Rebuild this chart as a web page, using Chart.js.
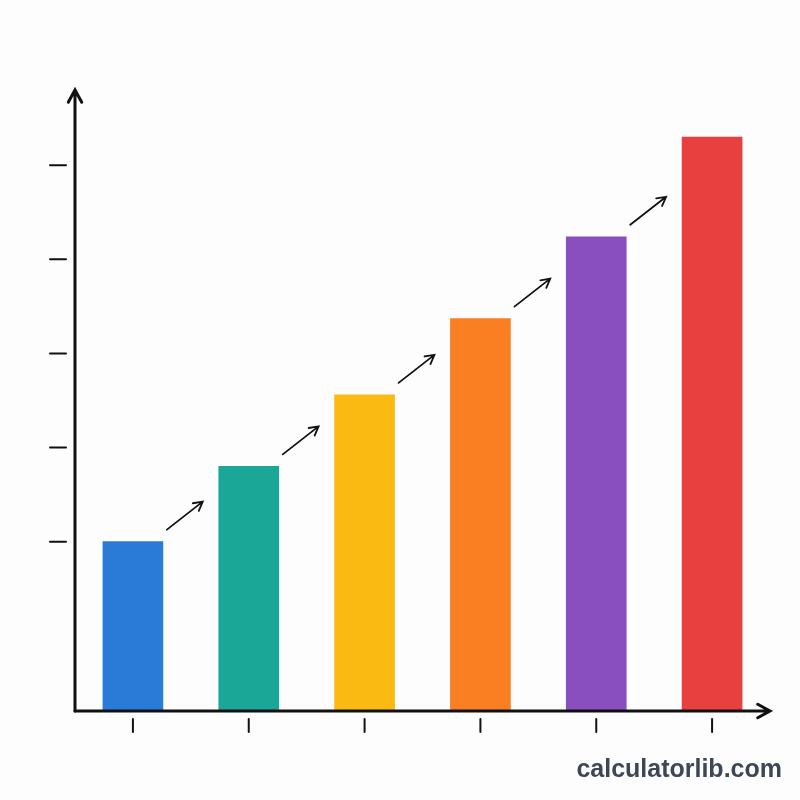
<!DOCTYPE html>
<html lang="en">
<head>
<meta charset="UTF-8" />
<title>Growth bars</title>
<script src="https://cdn.jsdelivr.net/npm/chart.js"></script>
<style>
  html, body { margin: 0; padding: 0; background: #fdfdfd; }
  #wrap { position: relative; width: 800px; height: 800px; }
  #brand { position: absolute; right: 18px; top: 754px; font: bold 25px "Liberation Sans", Arial, sans-serif; color: #3d4654; }
</style>
</head>
<body>
<div id="wrap">
  <canvas id="c" width="800" height="800"></canvas>
  <div id="brand">calculatorlib.com</div>
</div>
<script>
const categories = ["1", "2", "3", "4", "5", "6"];
const values = [18, 26, 33.6, 41.7, 50.4, 61];
const tickValues = [18, 28, 38, 48, 58];
const colors = ["#2a7bd8", "#1ba797", "#fbba12", "#f97f22", "#8a4fbf", "#e83f3f"];

function arrow(ctx, x1, y1, x2, y2, head) {
  ctx.beginPath();
  ctx.moveTo(x1, y1); ctx.lineTo(x2, y2);
  const a = Math.atan2(y2 - y1, x2 - x1);
  ctx.moveTo(x2 - head * Math.cos(a - 0.5), y2 - head * Math.sin(a - 0.5));
  ctx.lineTo(x2, y2);
  ctx.lineTo(x2 - head * Math.cos(a + 0.5), y2 - head * Math.sin(a + 0.5));
  ctx.stroke();
}

const axesPlugin = {
  id: 'axesPlugin',
  afterDatasetsDraw(chart) {
    const ctx = chart.ctx, a = chart.chartArea;
    const xs = chart.scales.x, ys = chart.scales.y;
    ctx.save();
    ctx.strokeStyle = '#111';
    ctx.lineWidth = 3;
    ctx.lineCap = 'round';
    arrow(ctx, a.left, a.bottom, a.left, a.top, 14);
    arrow(ctx, a.left, a.bottom, a.right, a.bottom, 14);
    ctx.lineWidth = 2;
    tickValues.forEach(v => {
      const y = ys.getPixelForValue(v);
      ctx.beginPath(); ctx.moveTo(a.left - 25, y); ctx.lineTo(a.left - 9, y); ctx.stroke();
    });
    categories.forEach((c, i) => {
      const x = xs.getPixelForValue(i);
      ctx.beginPath(); ctx.moveTo(x, a.bottom + 8); ctx.lineTo(x, a.bottom + 21); ctx.stroke();
    });
    const bars = chart.getDatasetMeta(0).data;
    for (let i = 0; i < bars.length - 1; i++) {
      const b = bars[i], n = bars[i + 1];
      const x1 = b.x + b.width / 2 + 4, y1 = b.y - 12;
      const x2 = n.x - n.width / 2 - 16, y2 = y1 - 28;
      ctx.lineWidth = 1.8;
      arrow(ctx, x1, y1, x2, y2, 10);
    }
    ctx.restore();
  }
};

new Chart(document.getElementById('c'), {
  type: 'bar',
  data: {
    labels: categories,
    datasets: [{ data: values, backgroundColor: colors, barThickness: 60, borderWidth: 0 }]
  },
  options: {
    responsive: false,
    animation: false,
    layout: { padding: { left: 75, right: 30, top: 90, bottom: 89 } },
    plugins: { legend: { display: false }, tooltip: { enabled: false } },
    scales: {
      x: { display: false },
      y: { display: false, min: 0, max: 66 }
    }
  },
  plugins: [axesPlugin]
});
</script>
</body>
</html>
